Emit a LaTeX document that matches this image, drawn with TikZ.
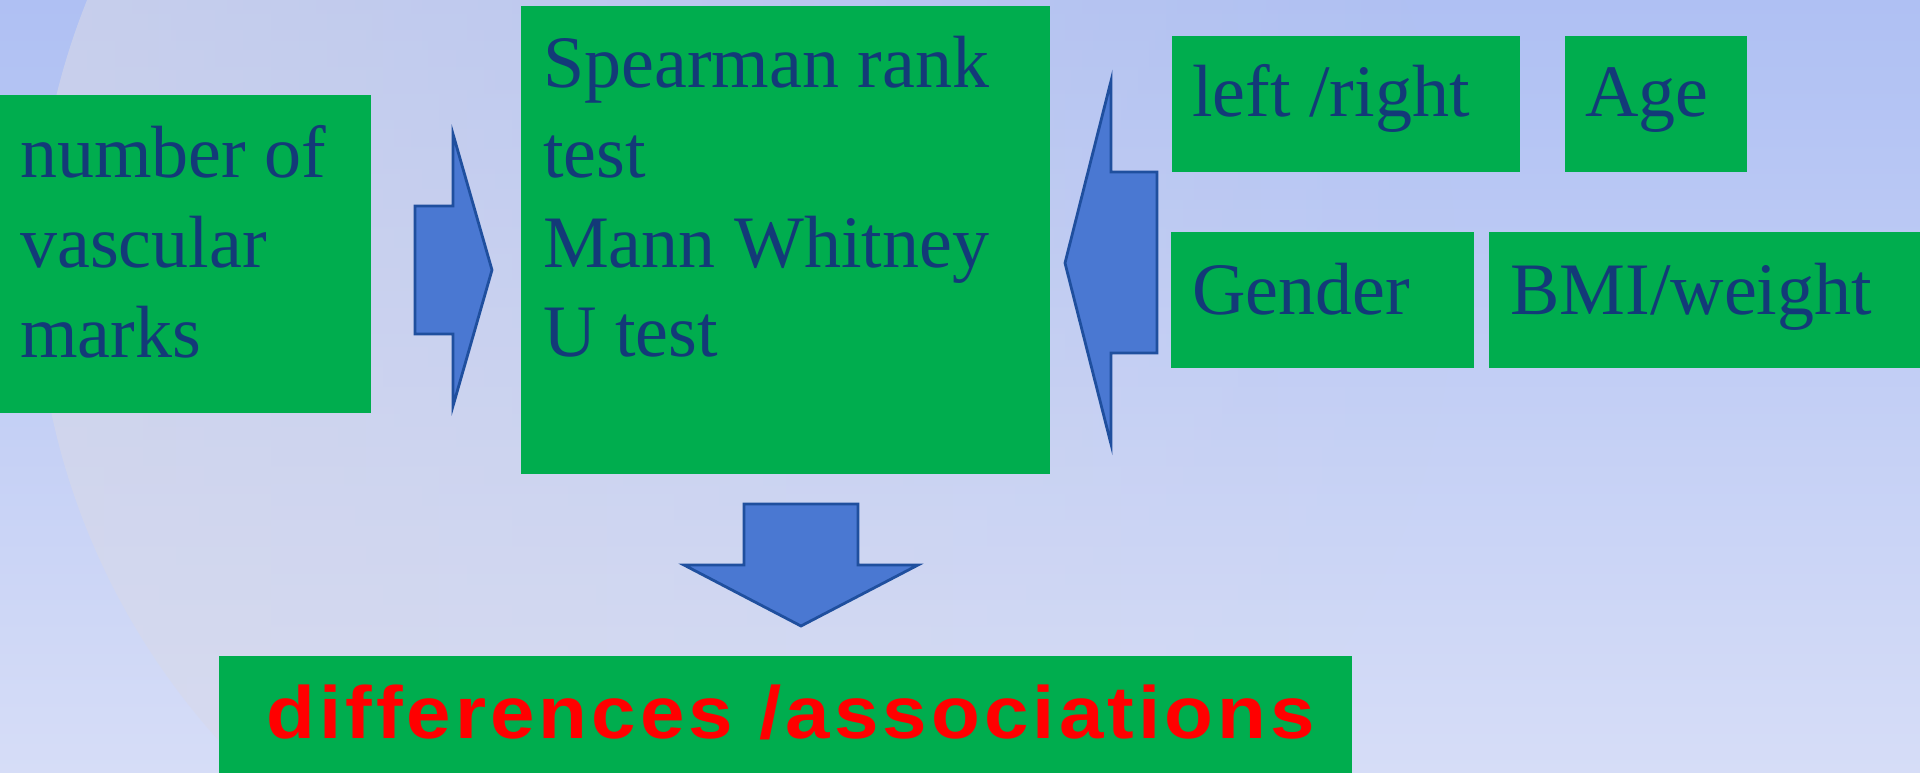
\documentclass[tikz,border=0pt]{standalone}
\usepackage{fontspec}
\setmainfont{Liberation Serif}
\newfontfamily\resultsans[FakeStretch=1.08, LetterSpace=5.5]{Liberation Sans}
\usetikzlibrary{fadings}

\definecolor{bgtop}{HTML}{AFC0F3}
\definecolor{bgbottom}{HTML}{D6DDF7}
\definecolor{haze}{HTML}{D8D9E8}
\definecolor{boxgreen}{HTML}{00AD4E}
\definecolor{inkblue}{HTML}{133A78}
\definecolor{arrowfill}{HTML}{4A78D2}
\definecolor{arrowline}{HTML}{1F4F9E}
\definecolor{resultred}{HTML}{FF0000}

\begin{document}
\begin{tikzpicture}[x=1pt,y=-1pt,
  gbox/.style={fill=boxgreen, draw=none, inner sep=0pt, anchor=north west},
  serif/.style={text=inkblue, anchor=base west, inner sep=0pt,
                font=\fontsize{74}{89.6}\selectfont},
  blockarrow/.style={fill=arrowfill, draw=arrowline, line width=2.8pt, line join=miter}]

\useasboundingbox (0,0) rectangle (1920,773);

% background: vertical gradient with a soft pale disc on the left
\begin{scope}
  \clip (0,0) rectangle (1920,773);
  \shade[top color=bgtop, bottom color=bgbottom] (0,0) rectangle (1920,773);
  \fill[haze, fill opacity=0.6, path fading=east] (746,265) circle[radius=710];
\end{scope}

% green boxes
\node[gbox, minimum width=371, minimum height=318] (marksbox) at (0,95) {};
\node[gbox, minimum width=529, minimum height=468] (testbox) at (521,6) {};
\node[gbox, minimum width=348, minimum height=136] (sidebox) at (1172,36) {};
\node[gbox, minimum width=182, minimum height=136] (agebox) at (1565,36) {};
\node[gbox, minimum width=303, minimum height=136] (genderbox) at (1171,232) {};
\node[gbox, minimum width=431, minimum height=136] (bmibox) at (1489,232) {};
\node[gbox, minimum width=1133, minimum height=117] (resultbox) at (219,656) {};

% box texts
\node[serif] (markstext) at (20,178)
  {\begin{tabular}[t]{@{}l@{}}number of\\vascular\\marks\end{tabular}};
\node[serif] (testtext) at (543,88)
  {\begin{tabular}[t]{@{}l@{}}Spearman rank\\test\\Mann Whitney\\U test\end{tabular}};
\node[serif] (sidetext) at (1192,117) {left /right};
\node[serif] (agetext) at (1585,117) {Age};
\node[serif] (gendertext) at (1192,314) {Gender};
\node[serif] (bmitext) at (1510,314) {BMI/weight};
\node[text=resultred, anchor=base west, inner sep=0pt,
      font=\resultsans\bfseries\fontsize{74}{89}\selectfont] (resulttext) at (266,738)
  {differences /associations};

% block arrows
\draw[blockarrow] (415,206) -- (453,206) -- (453,134) -- (492,270)
  -- (453,406) -- (453,334) -- (415,334) -- cycle;
\draw[blockarrow] (1157,172) -- (1111,172) -- (1111,81) -- (1065,263)
  -- (1111,444) -- (1111,353) -- (1157,353) -- cycle;
\draw[blockarrow] (744,504) -- (858,504) -- (858,565) -- (918,565)
  -- (801,626) -- (684,565) -- (744,565) -- cycle;

\end{tikzpicture}
\end{document}
